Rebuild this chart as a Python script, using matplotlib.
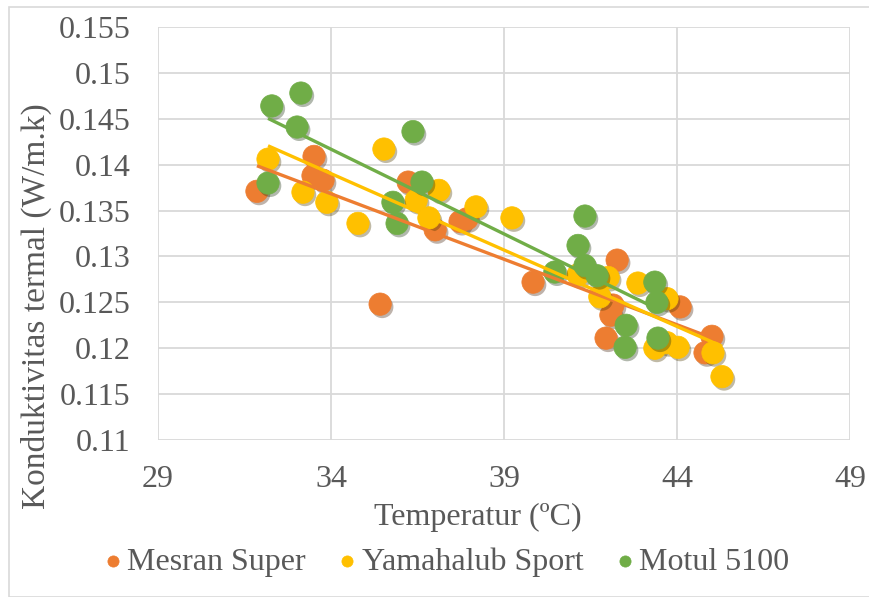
import matplotlib.pyplot as plt
import matplotlib.patheffects as pe
from matplotlib.patches import Rectangle
import numpy as np

plt.rcParams['font.family'] = ['Liberation Serif', 'DejaVu Serif']

# Mesran Super
mesran_t = [31.86, 33.51, 33.48, 33.77, 36.23, 37.01, 37.73, 37.93, 35.42,
            39.84, 42.27, 42.15, 42.09, 41.95, 44.09, 45.01, 44.81]
mesran_k = [0.1371, 0.1409, 0.1388, 0.1383, 0.1381, 0.1329, 0.1338, 0.1341, 0.1248,
            0.1272, 0.1296, 0.1247, 0.1236, 0.1211, 0.1245, 0.1213, 0.1195]

# Yamahalub Sport
yamaha_t = [32.18, 33.19, 33.88, 34.78, 35.53, 36.46, 37.12, 36.83, 38.19, 39.23,
            41.14, 42.01, 41.77, 42.87, 43.71, 43.36, 43.71, 44.03, 45.04, 45.30]
yamaha_k = [0.1406, 0.1370, 0.1359, 0.1336, 0.1417, 0.1361, 0.1372, 0.1342, 0.1354, 0.1342,
            0.1280, 0.1277, 0.1256, 0.1271, 0.1254, 0.1200, 0.1206, 0.1201, 0.1195, 0.1169]

# Motul 5100
motul_t = [32.29, 33.13, 33.02, 32.18, 36.37, 36.63, 35.79, 35.91, 41.34,
           41.14, 41.34, 41.69, 40.47, 43.36, 43.42, 43.45, 42.53, 42.50]
motul_k = [0.1464, 0.1478, 0.1441, 0.1380, 0.1436, 0.1381, 0.1359, 0.1336, 0.1344,
           0.1312, 0.1290, 0.1279, 0.1283, 0.1272, 0.1250, 0.1211, 0.1225, 0.1201]

series = [
    ("Mesran Super", mesran_t, mesran_k, "#ED7D31"),
    ("Yamahalub Sport", yamaha_t, yamaha_k, "#FFC000"),
    ("Motul 5100", motul_t, motul_k, "#70AD47"),
]

x_ticks = [29, 34, 39, 44, 49]
y_ticks = [0.11, 0.115, 0.12, 0.125, 0.13, 0.135, 0.14, 0.145, 0.15, 0.155]
y_labels = ["0.11", "0.115", "0.12", "0.125", "0.13", "0.135", "0.14", "0.145", "0.15", "0.155"]

fig = plt.figure(figsize=(8.7, 5.97), dpi=100)
ax = fig.add_axes([158 / 870, 1 - 440 / 597, 692 / 870, 413 / 597])

shadow = [pe.SimplePatchShadow(offset=(1.5, -2), alpha=0.35), pe.Normal()]
for name, t, k, c in series:
    ax.scatter(t, k, s=260, color=c, edgecolors=c, linewidths=0.5,
               label=name, zorder=3, path_effects=shadow)

# linear trendlines over each series' range
for name, t, k, c in series:
    t = np.array(t)
    m, b = np.polyfit(t, k, 1)
    xs = np.array([t.min(), t.max()])
    ax.plot(xs, m * xs + b, color=c, lw=2.4, zorder=4, solid_capstyle='butt')

ax.set_xlim(29, 49)
ax.set_ylim(0.11, 0.155)
ax.set_xticks(x_ticks)
ax.set_yticks(y_ticks)
ax.set_yticklabels(y_labels)
ax.grid(True, color="#D9D9D9", lw=1.3)
ax.set_axisbelow(True)
for s in ax.spines.values():
    s.set_visible(False)
ax.tick_params(length=0, labelsize=23, labelcolor="#595959")
ax.tick_params(axis='x', pad=18)
ax.tick_params(axis='y', pad=20)

ax.set_xlabel("Temperatur (ºC)", fontsize=23, color="#595959")
ax.xaxis.set_label_coords(0.462, -0.152)
ax.set_ylabel("Konduktivitas termal (W/m.k)", fontsize=24, color="#595959")
ax.yaxis.set_label_coords(-0.153, 0.324)

leg = fig.legend(loc='center', bbox_to_anchor=(0.514, 1 - 562 / 597), ncol=3,
                 frameon=False, fontsize=23, markerscale=0.5, handlelength=0.5,
                 handletextpad=0.2, columnspacing=1.05, labelcolor="#595959")
for h in leg.legend_handles:
    h.set_path_effects([])

fig.patches.append(Rectangle((9 / 870, 0), 1, 1 - 7 / 597, transform=fig.transFigure,
                             fill=False, edgecolor="#D9D9D9", lw=1.2))

fig.savefig("out.png", dpi=100)
